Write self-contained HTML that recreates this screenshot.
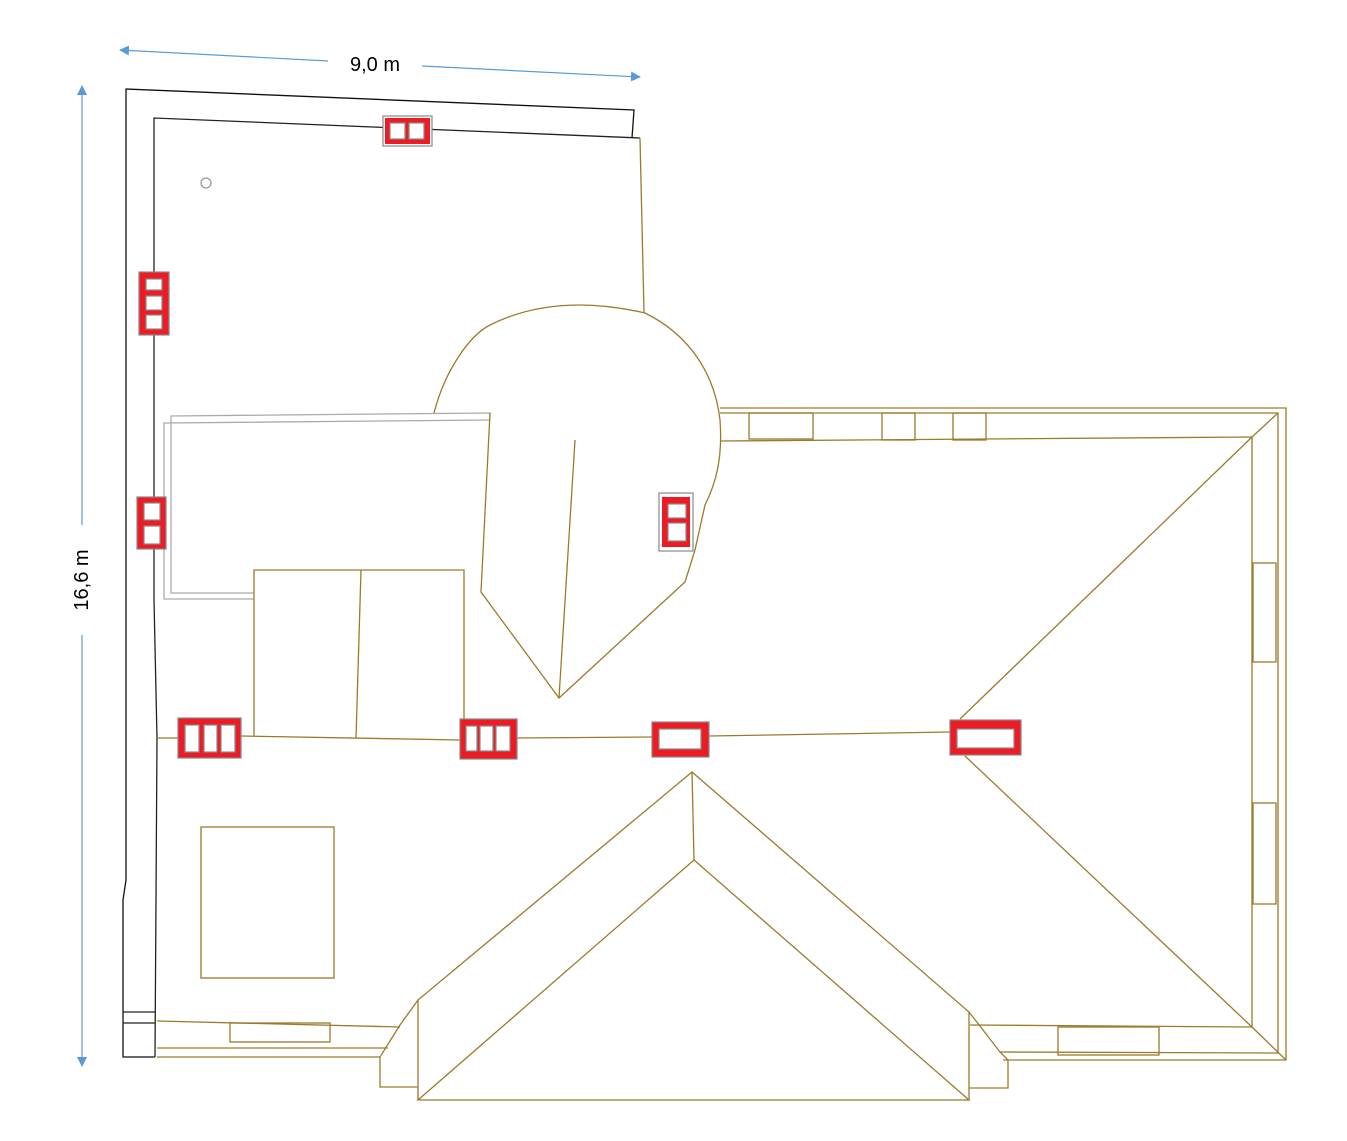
<!DOCTYPE html>
<html><head><meta charset="utf-8"><style>html,body{margin:0;padding:0;background:#fff}svg{display:block}</style></head>
<body>
<svg width="1347" height="1141" viewBox="0 0 1347 1141" xmlns="http://www.w3.org/2000/svg" font-family="Liberation Sans, sans-serif">
<defs>
<marker id="ar" viewBox="0 0 10 10" refX="9" refY="5" markerWidth="10" markerHeight="10" orient="auto-start-reverse" markerUnits="userSpaceOnUse"><path d="M0,0 L10,5 L0,10 z" fill="#5b9bd5"/></marker>
</defs>
<!-- dimensions -->
<line x1="120" y1="50" x2="328" y2="61" stroke="#5b9bd5" stroke-width="1.2" marker-start="url(#ar)"/>
<line x1="422" y1="66" x2="640" y2="77" stroke="#5b9bd5" stroke-width="1.2" marker-end="url(#ar)"/>
<text x="375" y="71" font-size="20" text-anchor="middle" fill="#000">9,0 m</text>
<line x1="82" y1="86" x2="82" y2="525" stroke="#5b9bd5" stroke-width="1.2" marker-start="url(#ar)"/>
<line x1="82" y1="635" x2="82" y2="1066" stroke="#5b9bd5" stroke-width="1.2" marker-end="url(#ar)"/>
<text transform="translate(88,580) rotate(-90)" font-size="20" text-anchor="middle" fill="#000">16,6 m</text>

<g fill="none" stroke-width="1.3">
<!-- black walls -->
<polyline points="632,138 634,110 126,89 126,880 123,900 123,1057 155,1057" stroke="#111"/>
<polyline points="640,138 154,118 154,600 157,738 155,1057" stroke="#222"/>
<line x1="123" y1="1012" x2="155" y2="1012" stroke="#222"/>
<line x1="123" y1="1023" x2="155" y2="1023" stroke="#222"/>
<!-- gray rect -->
<g stroke="#aaa">
<polyline points="491,413 171,416 171,593 254,593"/>
<polyline points="490,420 164,423 164,599 254,599"/>
</g>
<g stroke="#9c7a2a">
<line x1="640" y1="138" x2="644" y2="312"/>
<path d="M434,413 C445,370 470,335 490,325 C530,305 580,298 645,313 C690,335 715,375 720,420 C723,460 715,485 705,505 L695,550 L685,582 L559,698 L481,592 L490,413"/>
<line x1="575" y1="440" x2="559" y2="698"/>
<polyline points="254,736 254,570 464,570 464,740"/>
<line x1="361" y1="570" x2="356" y2="738"/>
<line x1="157" y1="738" x2="178" y2="738"/>
<line x1="241" y1="736" x2="460" y2="740"/>
<line x1="517" y1="738" x2="652" y2="737"/>
<line x1="709" y1="736" x2="950" y2="732"/>
<line x1="960" y1="719" x2="1252" y2="437"/>
<line x1="965" y1="756" x2="1252" y2="1027"/>
<polyline points="720,408 1286,408 1286,1060 1003,1060"/>
<polyline points="720,413 1278,413 1278,1053 1000,1052"/>
<line x1="720" y1="441" x2="1252" y2="437"/>
<line x1="1252" y1="437" x2="1252" y2="1027"/>
<line x1="1252" y1="437" x2="1278" y2="413"/>
<line x1="1252" y1="1027" x2="1286" y2="1060"/>
<rect x="749" y="413" width="64" height="26"/>
<rect x="882" y="413" width="33" height="27"/>
<rect x="953" y="413" width="33" height="27"/>
<rect x="1253" y="563" width="23" height="99"/>
<rect x="1253" y="803" width="23" height="101"/>
<rect x="1058" y="1027" width="101" height="28"/>
<line x1="970" y1="1025" x2="1252" y2="1027"/>
<polygon points="418,1100 694,860 969,1100"/>
<polyline points="418,1100 418,1000 692,772 969,1012 969,1100"/>
<line x1="692" y1="772" x2="694" y2="860"/>
<polyline points="418,1000 400,1025 380,1057 380,1087 418,1087"/>
<line x1="157" y1="1021" x2="400" y2="1027"/>
<line x1="157" y1="1048" x2="388" y2="1048"/>
<line x1="157" y1="1057" x2="380" y2="1057"/>
<rect x="230" y="1023" width="100" height="19"/>
<polyline points="969,1012 1000,1052 1008,1060 1008,1088 969,1088"/>
<rect x="201" y="827" width="133" height="151"/>
</g>
<circle cx="206" cy="183" r="5" stroke="#999"/>
</g>

<!-- red windows -->
<g stroke="#888" stroke-width="1.2">
<rect x="383" y="116" width="49" height="30" fill="#fff"/>
<rect x="385" y="118" width="45" height="26" fill="#ed1c24" stroke="none"/>
<rect x="390" y="123" width="15" height="16" fill="#fff"/>
<rect x="409" y="123" width="15" height="16" fill="#fff"/>

<rect x="139" y="272" width="30" height="63" fill="#ed1c24"/>
<rect x="146" y="279" width="16" height="11" fill="#fff"/>
<rect x="146" y="296" width="16" height="14" fill="#fff"/>
<rect x="146" y="315" width="16" height="14" fill="#fff"/>

<rect x="137" y="497" width="29" height="52" fill="#ed1c24"/>
<rect x="144" y="503" width="16" height="17" fill="#fff"/>
<rect x="144" y="526" width="16" height="18" fill="#fff"/>

<rect x="659" y="493" width="34" height="58" fill="#fff"/>
<rect x="662" y="497" width="28" height="50" fill="#ed1c24" stroke="none"/>
<rect x="668" y="504" width="18" height="14" fill="#fff"/>
<rect x="668" y="523" width="18" height="18" fill="#fff"/>

<rect x="178" y="718" width="63" height="40" fill="#ed1c24"/>
<rect x="185" y="725" width="14" height="27" fill="#fff"/>
<rect x="204" y="725" width="13" height="27" fill="#fff"/>
<rect x="221" y="725" width="14" height="27" fill="#fff"/>

<rect x="460" y="719" width="57" height="40" fill="#ed1c24"/>
<rect x="466" y="726" width="11" height="25" fill="#fff"/>
<rect x="480" y="726" width="13" height="25" fill="#fff"/>
<rect x="496" y="726" width="14" height="25" fill="#fff"/>

<rect x="652" y="722" width="57" height="35" fill="#ed1c24"/>
<rect x="659" y="729" width="42" height="20" fill="#fff"/>

<rect x="950" y="720" width="71" height="35" fill="#ed1c24"/>
<rect x="957" y="729" width="57" height="19" fill="#fff"/>
</g>
</svg>
</body></html>
